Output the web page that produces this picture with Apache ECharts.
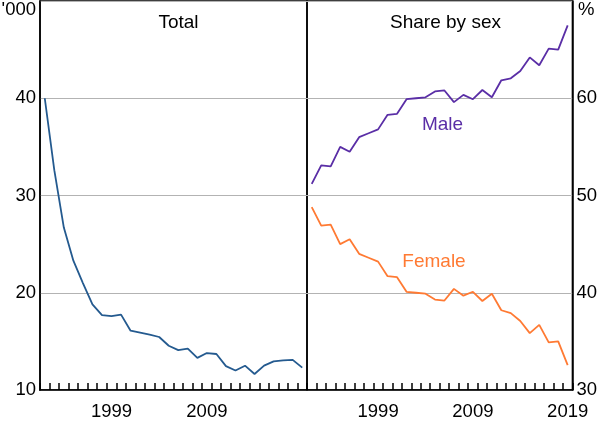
<!DOCTYPE html>
<html>
<head>
<meta charset="utf-8">
<script src="https://cdn.jsdelivr.net/npm/echarts@6/dist/echarts.min.js"></script>
<style>
html,body{margin:0;padding:0;background:#fff;}
#c{width:600px;height:421px;}
</style>
</head>
<body>
<div id="c"></div>
<script>
const years = ['1992','1993','1994','1995','1996','1997','1998','1999','2000','2001','2002','2003','2004','2005','2006','2007','2008','2009','2010','2011','2012','2013','2014','2015','2016','2017','2018','2019'];
const total = [40.0, 32.6, 26.7, 23.3, 21.0, 18.8, 17.7, 17.6, 17.75, 16.1, 15.9, 15.7, 15.45, 14.55, 14.1, 14.25, 13.3, 13.8, 13.7, 12.45, 12.0, 12.5, 11.65, 12.5, 12.95, 13.05, 13.1, 12.3];
const male = [51.2, 53.1, 53.0, 55.0, 54.5, 56.0, 56.4, 56.8, 58.3, 58.4, 59.9, 60.0, 60.1, 60.7, 60.8, 59.6, 60.35, 59.9, 60.85, 60.1, 61.85, 62.05, 62.8, 64.2, 63.4, 65.1, 65.0, 67.5];
const female = [48.8, 46.9, 47.0, 45.0, 45.5, 44.0, 43.6, 43.2, 41.7, 41.6, 40.1, 40.0, 39.9, 39.3, 39.2, 40.4, 39.7, 40.1, 39.15, 39.9, 38.2, 37.9, 37.1, 35.85, 36.7, 34.9, 35.0, 32.55];
const leftTicks = [10, 20, 30, 40];
const rightTicks = [30, 40, 50, 60];
const leftYearLabels = ['1999', '2009'];
const rightYearLabels = ['1999', '2009', '2019'];

const FONT = "'Liberation Sans', Arial, sans-serif";
const FS = 18.5;
const chart = echarts.init(document.getElementById('c'));

function xAxisDef(gridIndex, shown) {
  return {
    type: 'category', gridIndex: gridIndex, data: years, boundaryGap: true,
    axisLine: {show: true, lineStyle: {color: '#000', width: 1.5}},
    axisTick: {show: true, inside: true, length: 7, interval: 0, lineStyle: {color: '#000', width: 1.5}},
    axisLabel: {
      interval: function (i, v) { return shown.indexOf(v) >= 0; },
      color: '#000', fontFamily: FONT, fontSize: FS, margin: 12
    },
    splitLine: {show: false}
  };
}
function yAxisDef(gridIndex, pos, min, max, ticks) {
  return {
    type: 'value', gridIndex: gridIndex, position: pos, min: min, max: max, interval: 10,
    axisLine: {show: true, lineStyle: {color: '#000', width: 1.5}},
    axisTick: {show: false},
    axisLabel: {
      color: '#000', fontFamily: FONT, fontSize: FS, margin: 4,
      formatter: function (v) { return ticks.indexOf(v) >= 0 ? String(v) : ''; }
    },
    splitLine: {show: true, lineStyle: {color: '#b3b3b3', width: 1}}
  };
}

chart.setOption({
  animation: false,
  backgroundColor: '#fff',
  title: [
    {text: 'Total', left: 173.5, top: 8, textAlign: 'center',
     textStyle: {fontFamily: FONT, fontSize: 19, fontWeight: 'normal', color: '#000'}},
    {text: 'Share by sex', left: 440.5, top: 8, textAlign: 'center',
     textStyle: {fontFamily: FONT, fontSize: 19, fontWeight: 'normal', color: '#000'}}
  ],
  grid: [
    {left: 40, top: 1, width: 267, bottom: 28, show: true, borderColor: '#000', borderWidth: 1.5},
    {left: 307, top: 1, width: 267, bottom: 28, show: true, borderColor: '#000', borderWidth: 1.5}
  ],
  xAxis: [xAxisDef(0, leftYearLabels), xAxisDef(1, rightYearLabels)],
  yAxis: [yAxisDef(0, 'left', 10, 50, leftTicks), yAxisDef(1, 'right', 30, 70, rightTicks)],
  series: [
    {type: 'line', name: 'Total', xAxisIndex: 0, yAxisIndex: 0, data: total, symbol: 'none',
     lineStyle: {color: '#245a8f', width: 1.8}},
    {type: 'line', name: 'Male', xAxisIndex: 1, yAxisIndex: 1, data: male, symbol: 'none',
     lineStyle: {color: '#5a2ea6', width: 1.8}},
    {type: 'line', name: 'Female', xAxisIndex: 1, yAxisIndex: 1, data: female, symbol: 'none',
     lineStyle: {color: '#ff7a33', width: 1.8}}
  ],
  graphic: [
    {type: 'text', x: 36, y: 10, style: {text: "'000", fontFamily: FONT, fontSize: FS, fill: '#000', align: 'right', verticalAlign: 'middle'}},
    {type: 'text', x: 578, y: 10, style: {text: '%', fontFamily: FONT, fontSize: FS, fill: '#000', align: 'left', verticalAlign: 'middle'}},
    {type: 'text', x: 442.5, y: 125, style: {text: 'Male', fontFamily: FONT, fontSize: 19, fill: '#5a2ea6', align: 'center', verticalAlign: 'middle'}},
    {type: 'text', x: 434, y: 262, style: {text: 'Female', fontFamily: FONT, fontSize: 19, fill: '#ff7a33', align: 'center', verticalAlign: 'middle'}}
  ]
});
</script>
</body>
</html>
